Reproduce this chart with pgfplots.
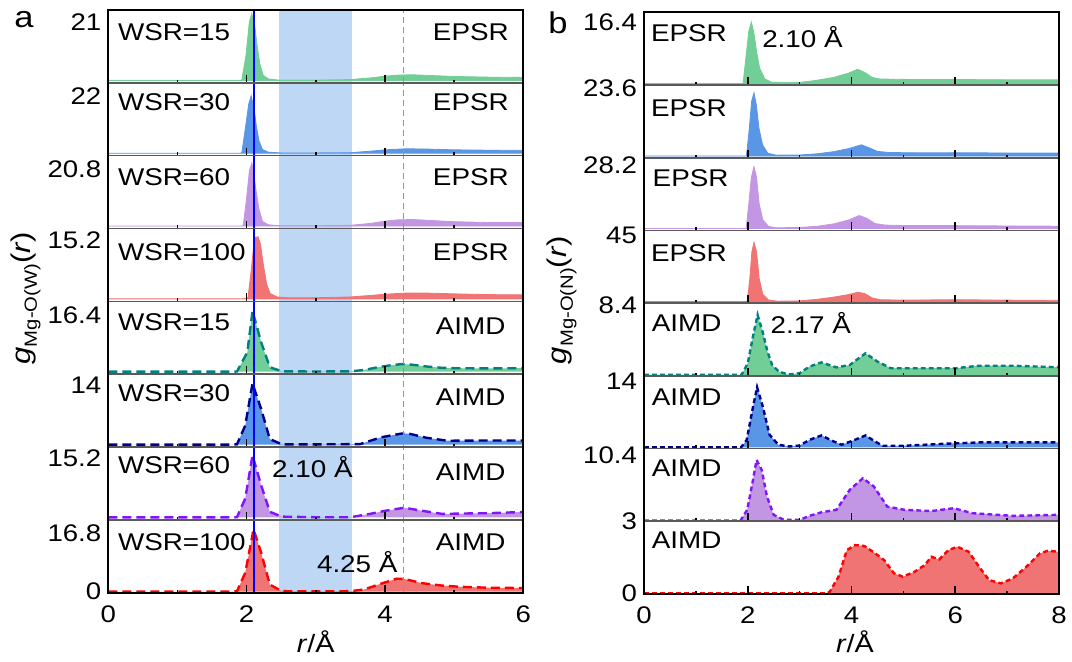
\documentclass[border=0pt]{standalone}
\usepackage{fontspec}
\setmainfont{Liberation Sans}[FakeStretch=1.15]
\usepackage{pgfplots}
\pgfplotsset{compat=1.18}
\usepackage{pgfplotstable}

\definecolor{gfill}{RGB}{112,206,150}
\definecolor{bfill}{RGB}{90,150,230}
\definecolor{pfill}{RGB}{195,150,228}
\definecolor{rfill}{RGB}{240,116,116}
\definecolor{tealline}{RGB}{0,128,128}
\definecolor{navyline}{RGB}{0,0,140}
\definecolor{violetline}{RGB}{130,20,250}
\definecolor{redline}{RGB}{255,0,0}
\definecolor{bandblue}{RGB}{189,215,245}
\definecolor{greyline}{RGB}{150,150,150}
\definecolor{sepgray}{RGB}{90,90,90}

% ---------- panel a data ----------
\pgfplotstableread{
r g
0 0
1.90 0
1.93 0.1
1.99 8.9
2.04 21.0
2.075 23.8
2.115 19.9
2.15 12.8
2.19 6.0
2.24 1.8
2.315 0.5
2.465 0.1
3.0 0.1
3.5 0.3
3.8 0.9
4.0 1.5
4.2 1.9
4.4 2.0
4.6 1.8
5.0 1.4
5.5 1.15
6.0 1.05
}\aA
\pgfplotstableread{
r g
0 0
1.90 0
1.93 0.1
1.99 11.2
2.03 19.0
2.065 22.2
2.105 17.7
2.14 10.5
2.18 4.7
2.23 1.4
2.315 0.4
2.5 0.1
3.0 0.1
3.5 0.2
3.8 0.8
4.0 1.3
4.3 1.7
4.6 1.6
5.0 1.3
5.5 1.15
6.0 1.1
}\aB
\pgfplotstableread{
r g
0 0
1.92 0
1.95 0.1
2.0 10.4
2.04 20.4
2.075 23.3
2.105 19.1
2.14 12.3
2.18 6.1
2.23 1.7
2.315 0.45
2.5 0.1
3.0 0.1
3.5 0.25
3.8 1.0
4.0 1.8
4.2 2.3
4.4 2.4
4.7 2.0
5.0 1.6
5.5 1.3
6.0 1.25
}\aC
\pgfplotstableread{
r g
0 0
1.95 0
2.02 0.3
2.065 7.2
2.10 13.3
2.13 15.8
2.165 16.0
2.20 14.1
2.24 9.0
2.29 3.8
2.34 1.4
2.44 0.5
2.6 0.3
3.0 0.3
3.5 0.5
3.8 0.9
4.0 1.2
4.3 1.5
4.6 1.5
5.0 1.3
5.5 1.1
6.0 1.05
}\aD
\pgfplotstableread{
r g
0 0
1.80 0
1.86 0.05
2.01 5.6
2.085 17.5
2.21 8.5
2.335 1.3
2.51 0.1
3.0 0.05
3.5 0.1
3.7 0.5
3.9 1.3
4.1 1.9
4.25 2.2
4.4 2.0
4.6 1.5
4.8 1.15
5.0 1.0
5.5 0.95
6.0 1.0
}\aE
\pgfplotstableread{
r g
0 0
1.80 0
1.86 0.05
1.98 4.5
2.085 14.4
2.21 8.4
2.335 1.3
2.51 0.05
3.0 0.05
3.64 0.1
3.94 1.7
4.24 2.6
4.34 2.6
4.6 1.6
4.9 0.9
5.4 0.95
6.0 0.95
}\aF
\pgfplotstableread{
r g
0 0
1.80 0
1.86 0.05
1.98 4.9
2.085 16.0
2.21 8.3
2.335 1.45
2.51 0.2
3.0 0.05
3.5 0.05
3.78 0.9
4.0 1.7
4.28 2.5
4.54 1.7
4.83 0.9
5.1 1.0
5.5 1.1
6.0 1.4
}\aG
\pgfplotstableread{
r g
0 0
1.80 0
1.86 0.05
1.98 5.4
2.10 17.9
2.21 11.2
2.335 2.0
2.51 0.1
3.0 0.05
3.5 0.1
3.7 0.6
3.95 2.3
4.17 3.7
4.28 3.6
4.54 2.4
4.83 1.7
5.1 1.35
5.5 1.1
6.0 1.0
}\aH

% ---------- panel b data ----------
\pgfplotstableread{
r g
0 0
1.89 0
1.91 0.1
1.97 7.6
2.02 13.9
2.07 16.4
2.12 13.4
2.17 8.5
2.23 4.1
2.33 1.2
2.46 0.35
3.0 0.3
3.3 0.8
3.65 1.6
3.95 2.8
4.12 3.8
4.25 3.0
4.4 1.6
4.55 1.2
5.0 1.1
6.0 1.05
7.0 1.0
8.0 1.0
}\bA
\pgfplotstableread{
r g
0 0
1.955 0
1.975 0.1
2.025 8.6
2.075 19.1
2.12 22.0
2.165 17.9
2.215 9.8
2.285 3.9
2.385 1.0
2.545 0.3
3.0 0.35
3.35 0.8
3.65 1.5
3.95 2.6
4.19 3.9
4.35 2.8
4.5 1.6
4.75 1.2
5.5 1.1
6.0 1.15
7.0 1.05
8.0 1.0
}\bB
\pgfplotstableread{
r g
0 0
1.95 0
1.97 0.1
2.02 11.1
2.07 23.0
2.12 27.8
2.17 23.0
2.22 11.1
2.29 3.9
2.40 0.9
2.54 0.3
3.0 0.4
3.35 1.0
3.65 2.0
3.95 3.8
4.15 5.8
4.3 4.5
4.45 2.2
4.65 1.5
5.0 1.3
6.0 1.25
7.0 1.1
8.0 1.0
}\bC
\pgfplotstableread{
r g
0 0
1.97 0
1.99 0.2
2.04 15.7
2.08 33.7
2.12 40.0
2.17 33.7
2.22 15.7
2.29 4.9
2.40 1.1
2.58 0.3
3.0 0.5
3.35 1.6
3.65 3.0
3.95 4.8
4.12 6.3
4.25 5.5
4.4 2.5
4.55 1.3
5.0 1.0
6.0 1.3
7.0 1.0
8.0 0.9
}\bD
\pgfplotstableread{
r g
0 0
1.88 0
2.00 1.4
2.10 4.6
2.19 7.2
2.29 5.1
2.38 2.8
2.47 1.2
2.60 0.4
2.78 0.05
3.0 0.2
3.19 1.0
3.42 1.5
3.71 0.9
3.97 1.2
4.27 2.6
4.5 1.6
4.76 0.8
5.15 0.8
6.0 0.8
6.46 1.1
7.1 1.1
8.0 0.92
}\bE
\pgfplotstableread{
r g
0 0
1.87 0
1.98 1.6
2.09 8.0
2.18 12.8
2.29 8.7
2.42 2.7
2.59 0.57
2.8 0.2
3.0 0.4
3.19 1.6
3.42 2.55
3.65 1.3
3.81 0.57
4.04 1.5
4.27 2.55
4.45 1.3
4.6 0.35
5.0 0.35
5.8 0.78
6.46 1.06
8.0 1.06
}\bF
\pgfplotstableread{
r g
0 0
1.86 0
1.99 1.7
2.10 6.4
2.17 9.6
2.27 8.0
2.37 3.8
2.50 0.9
2.70 0.1
3.0 0.1
3.19 0.74
3.42 1.3
3.71 1.7
3.97 4.9
4.22 6.7
4.43 5.4
4.69 2.2
5.02 1.7
5.54 1.5
5.97 1.95
6.33 1.16
7.11 0.74
8.0 0.9
}\bG
\pgfplotstableread{
r g
0 0
3.52 0
3.58 0.07
3.75 0.70
3.91 1.81
4.07 2.02
4.25 1.98
4.46 1.67
4.63 1.39
4.82 0.84
4.99 0.70
5.22 0.91
5.41 1.18
5.54 1.53
5.69 1.42
5.87 1.81
6.04 1.95
6.26 1.74
6.46 1.11
6.65 0.56
6.88 0.42
7.11 0.63
7.37 1.11
7.63 1.67
7.78 1.78
8.0 1.74
}\bH

\pgfplotsset{
  base/.style={scale only axis, axis on top, anchor=north west, xmin=0,
    tick align=inside, xtick pos=bottom, ytick pos=left,
    major tick length=4pt, minor tick length=1.6pt,
    ytick=\empty,
    axis line style={draw=sepgray, line width=0.8pt},
    every tick/.style={black, line width=0.8pt},
    extra y tick style={tick style={draw=none}},
    tick label style={font=\fontsize{12}{14}\selectfont},
    /pgf/number format/assume math mode=true,
    xticklabels={},
    xticklabel style={yshift=-3pt},
  },
  pa/.style n args={4}{base, at={(54.15pt,-#1pt)}, width=207.5pt, height=36.42pt,
    xmax=6, xtick={0,2,4,6}, minor xtick={1,3,5},
    ymin=#2, ymax=#3, minor ytick={#4}},
  pb/.style n args={4}{base, at={(322pt,-#1pt)}, width=207.5pt, height=36.35pt,
    xmax=8, xtick={0,2,4,6,8}, minor xtick={1,3,5,7},
    ymin=#2, ymax=#3, minor ytick={#4}},
}
\tikzset{txt/.style={inner sep=0pt, font=\fontsize{12.1}{14}\selectfont}}

\newcommand{\bandA}{\fill[bandblue] ({axis cs:2.47,0}|-{rel axis cs:0,0}) rectangle ({axis cs:3.52,0}|-{rel axis cs:0,1});}
\newcommand{\linesA}{%
  \draw[greyline, line width=0.7pt, dash pattern=on 3pt off 2pt] ({axis cs:4.27,0}|-{rel axis cs:0,0}) -- ({axis cs:4.27,0}|-{rel axis cs:0,1});
  \draw[blue, line width=1pt] ({axis cs:2.1,0}|-{rel axis cs:0,0}) -- ({axis cs:2.1,0}|-{rel axis cs:0,1});}

\begin{document}
\begin{tikzpicture}
\useasboundingbox (0,0) rectangle (536pt,-330.5pt);

% ================= panel a =================
\begin{axis}[pa={5}{-0.89}{25.16}{12.1}, extra y ticks={21}, extra y tick labels={21}]
\bandA
\addplot[fill=gfill, draw=gfill, line width=0.4pt] table {\aA} \closedcycle;
\linesA
\node[txt, anchor=west] at (rel axis cs:0.0225,0.70) {WSR=15};
\node[txt, anchor=east] at (rel axis cs:0.966,0.70) {EPSR};
\end{axis}

\begin{axis}[pa={41.42}{-0.97}{27.19}{13.1}, extra y ticks={22}, extra y tick labels={22}]
\bandA
\addplot[fill=bfill, draw=bfill, line width=0.4pt] table {\aB} \closedcycle;
\linesA
\node[txt, anchor=west] at (rel axis cs:0.0225,0.73) {WSR=30};
\node[txt, anchor=east] at (rel axis cs:0.966,0.73) {EPSR};
\end{axis}

\begin{axis}[pa={77.84}{-0.93}{25.98}{12.5}, extra y ticks={20.8}, extra y tick labels={20.8}]
\bandA
\addplot[fill=pfill, draw=pfill, line width=0.4pt] table {\aC} \closedcycle;
\linesA
\node[txt, anchor=west] at (rel axis cs:0.0225,0.71) {WSR=60};
\node[txt, anchor=east] at (rel axis cs:0.966,0.70) {EPSR};
\end{axis}

\begin{axis}[pa={114.26}{-0.64}{18.10}{8.7}, extra y ticks={15.2}, extra y tick labels={15.2}]
\bandA
\addplot[fill=rfill, draw=rfill, line width=0.4pt] table {\aD} \closedcycle;
\linesA
\node[txt, anchor=west] at (rel axis cs:0.0225,0.68) {WSR=100};
\node[txt, anchor=east] at (rel axis cs:0.966,0.68) {EPSR};
\end{axis}

\begin{axis}[pa={150.68}{-0.73}{20.26}{9.8}, extra y ticks={16.4}, extra y tick labels={16.4}]
\bandA
\addplot[fill=gfill, draw=none] table {\aE} \closedcycle;
\addplot[tealline, line width=1.2pt, dash pattern=on 4.5pt off 2.5pt] table {\aE};
\linesA
\node[txt, anchor=west] at (rel axis cs:0.0225,0.72) {WSR=15};
\node[txt, anchor=east] at (rel axis cs:0.958,0.66) {AIMD};
\end{axis}

\begin{axis}[pa={187.1}{-0.59}{16.60}{8.0}, extra y ticks={14}, extra y tick labels={14}]
\bandA
\addplot[fill=bfill, draw=none] table {\aF} \closedcycle;
\addplot[navyline, line width=1.2pt, dash pattern=on 4.5pt off 2.5pt] table {\aF};
\linesA
\node[txt, anchor=west] at (rel axis cs:0.0225,0.74) {WSR=30};
\node[txt, anchor=east] at (rel axis cs:0.958,0.68) {AIMD};
\end{axis}

\begin{axis}[pa={223.52}{-0.64}{18.18}{8.8}, extra y ticks={15.2}, extra y tick labels={15.2}]
\bandA
\addplot[fill=pfill, draw=none] table {\aG} \closedcycle;
\addplot[violetline, line width=1.2pt, dash pattern=on 4.5pt off 2.5pt] table {\aG};
\linesA
\node[txt, anchor=west] at (rel axis cs:0.0225,0.75) {WSR=60};
\node[txt, anchor=east] at (rel axis cs:0.958,0.65) {AIMD};
\node[txt, anchor=west] at (rel axis cs:0.394,0.72) {2.10 Å};
\end{axis}

\begin{axis}[pa={259.94}{-0.35}{20.64}{10.1}, extra y ticks={0,16.8}, extra y tick labels={0,16.8}, xticklabels={0,2,4,6}]
\bandA
\addplot[fill=rfill, draw=none] table {\aH} \closedcycle;
\addplot[redline, line width=1.2pt, dash pattern=on 4.5pt off 2.5pt] table {\aH};
\linesA
\node[txt, anchor=west] at (rel axis cs:0.0225,0.70) {WSR=100};
\node[txt, anchor=east] at (rel axis cs:0.958,0.70) {AIMD};
\node[txt, anchor=west] at (rel axis cs:0.502,0.42) {4.25 Å};
\end{axis}

\draw[black, line width=1pt] (54.15pt,-5pt) rectangle (261.65pt,-296.36pt);

% ================= panel b =================
\begin{axis}[pb={6.15}{-0.40}{18.99}{9.3}, extra y ticks={16.4}, extra y tick labels={16.4}]
\addplot[fill=gfill, draw=gfill, line width=0.4pt] table {\bA} \closedcycle;
\node[txt, anchor=west] at (rel axis cs:0.016,0.71) {EPSR};
\node[txt, anchor=west] at (rel axis cs:0.284,0.66) {2.10 Å};
\end{axis}

\begin{axis}[pb={42.5}{-0.59}{24.75}{12.1}, extra y ticks={23.6}, extra y tick labels={23.6}]
\addplot[fill=bfill, draw=bfill, line width=0.4pt] table {\bB} \closedcycle;
\node[txt, anchor=west] at (rel axis cs:0.016,0.68) {EPSR};
\end{axis}

\begin{axis}[pb={78.85}{-0.90}{31.79}{15.4}, extra y ticks={28.2}, extra y tick labels={28.2}]
\addplot[fill=pfill, draw=pfill, line width=0.4pt] table {\bC} \closedcycle;
\node[txt, anchor=west] at (rel axis cs:0.02,0.72) {EPSR};
\end{axis}

\begin{axis}[pb={115.2}{-1.01}{48.04}{23.5}, extra y ticks={45}, extra y tick labels={45}]
\addplot[fill=rfill, draw=rfill, line width=0.4pt] table {\bD} \closedcycle;
\node[txt, anchor=west] at (rel axis cs:0.016,0.69) {EPSR};
\end{axis}

\begin{axis}[pb={151.55}{-0.11}{8.62}{4.25}, extra y ticks={8.4}, extra y tick labels={8.4}]
\addplot[fill=gfill, draw=none] table {\bE} \closedcycle;
\addplot[tealline, line width=1.2pt, dash pattern=on 2.4pt off 1.6pt] table {\bE};
\node[txt, anchor=west] at (rel axis cs:0.018,0.73) {AIMD};
\node[txt, anchor=west] at (rel axis cs:0.304,0.73) {2.17 Å};
\end{axis}

\begin{axis}[pb={187.9}{-0.23}{15.23}{7.5}, extra y ticks={14}, extra y tick labels={14}]
\addplot[fill=bfill, draw=none] table {\bF} \closedcycle;
\addplot[navyline, line width=1.2pt, dash pattern=on 2.4pt off 1.6pt] table {\bF};
\node[txt, anchor=west] at (rel axis cs:0.018,0.70) {AIMD};
\end{axis}

\begin{axis}[pb={224.25}{-0.11}{11.41}{5.65}, extra y ticks={10.4}, extra y tick labels={10.4}]
\addplot[fill=pfill, draw=none] table {\bG} \closedcycle;
\addplot[violetline, line width=1.2pt, dash pattern=on 2.4pt off 1.6pt] table {\bG};
\node[txt, anchor=west] at (rel axis cs:0.018,0.73) {AIMD};
\end{axis}

\begin{axis}[pb={260.6}{-0.02}{3.016}{1.5}, extra y ticks={0,3}, extra y tick labels={0,3}, xticklabels={0,2,4,6,8}]
\addplot[fill=rfill, draw=none] table {\bH} \closedcycle;
\addplot[redline, line width=1.2pt, dash pattern=on 2.4pt off 1.6pt] table {\bH};
\node[txt, anchor=west] at (rel axis cs:0.018,0.74) {AIMD};
\end{axis}

\draw[black, line width=1pt] (322pt,-6.15pt) rectangle (529.5pt,-296.95pt);

% ================= labels =================
\node[font=\fontsize{15}{18}\selectfont] at (12pt,-10pt) {a};
\node[font=\fontsize{15}{18}\selectfont] at (279pt,-11.5pt) {b};
\node[rotate=90, inner sep=0pt] at (13pt,-149pt) {\fontsize{13.5}{16}\selectfont\textit{g}\raisebox{-3pt}{\fontsize{8.8}{10}\selectfont Mg-O(W)}(\textit{r})};
\node[rotate=90, inner sep=0pt] at (281pt,-150pt) {\fontsize{13.5}{16}\selectfont\textit{g}\raisebox{-3pt}{\fontsize{8.8}{10}\selectfont Mg-O(N)}(\textit{r})};
\node[font=\fontsize{12.5}{15}\selectfont] at (157.9pt,-321pt) {\textit{r}/Å};
\node[font=\fontsize{12.5}{15}\selectfont] at (427.5pt,-321pt) {\textit{r}/Å};
\end{tikzpicture}
\end{document}
